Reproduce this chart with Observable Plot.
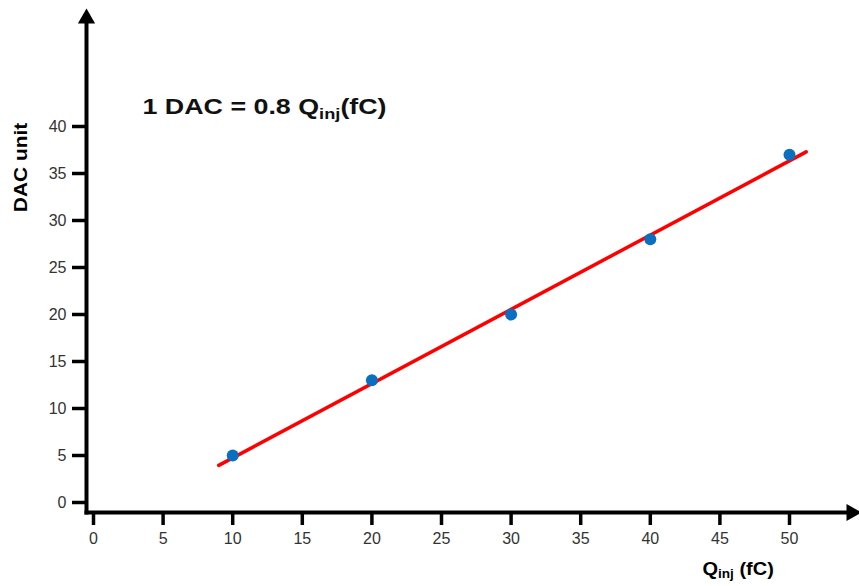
<!DOCTYPE html>
<html>
<head>
<meta charset="utf-8">
<script src="https://cdn.jsdelivr.net/npm/d3@7"></script>
<script src="https://cdn.jsdelivr.net/npm/@observablehq/plot@0.6"></script>
<style>
  html, body { margin: 0; padding: 0; background: #fff; }
  #chart svg { display: block; }
</style>
</head>
<body>
<div id="chart"></div>
<script>
// Data
const qinj = [10, 20, 30, 40, 50];          // Q_inj (fC)
const dacUnits = [5, 13, 20, 28, 37];       // DAC unit
const fitQ = [9, 51.2];                      // fitted line extent
const fitDAC = [3.95, 37.3];
const xTicks = [0, 5, 10, 15, 20, 25, 30, 35, 40, 45, 50];
const yTicks = [0, 5, 10, 15, 20, 25, 30, 35, 40];
const titleText = "1 DAC = 0.8 Q_inj_(fC)";
const xLabel = "Q_inj_ (fC)";
const yLabel = "DAC unit";

const points = qinj.map((q, i) => ({q, dac: dacUnits[i]}));
const fit = fitQ.map((q, i) => ({q, dac: fitDAC[i]}));

const W = 859, H = 586;
const font = "'Liberation Sans', Arial, sans-serif";

const chart = Plot.plot({
  width: W,
  height: H,
  marginLeft: 86,
  marginRight: 13,
  marginTop: 23,
  marginBottom: 74,
  style: {fontFamily: font, fontSize: "16px", background: "#fff", color: "#000"},
  x: {domain: [0, 50], range: [93, 789]},
  y: {domain: [0, 40], range: [502, 126]},
  marks: [
    Plot.axisX(xTicks, {tickSize: 13, tickPadding: 7, strokeWidth: 3.5, fill: "#333", fontSize: 16, label: null, tickFormat: d => d}),
    Plot.axisY(yTicks, {tickSize: 14, tickPadding: 6, strokeWidth: 3.5, fill: "#333", fontSize: 16, label: null, tickFormat: d => d}),
    Plot.frame({anchor: "left", stroke: "#000", strokeWidth: 4}),
    Plot.frame({anchor: "bottom", stroke: "#000", strokeWidth: 4}),
    Plot.dot([0], {frameAnchor: "top-left", symbol: "triangle", r: 6.4, fill: "#000", stroke: "none", dy: -5}),
    Plot.dot([0], {frameAnchor: "bottom-right", symbol: "triangle", r: 6.4, fill: "#000", stroke: "none", rotate: 90, dx: 5}),
    Plot.line(fit, {x: "q", y: "dac", stroke: "#ff0000", strokeWidth: 3.5}),
    Plot.dot(points, {x: "q", y: "dac", r: 6, fill: "#0b6fc0", stroke: "none"}),
    Plot.text([titleText], {frameAnchor: "top-left", text: d => d, dx: 56, dy: 75, textAnchor: "start", fontSize: 22, fontWeight: "bold", fill: "#111"}),
    Plot.text([xLabel], {frameAnchor: "bottom-left", text: d => d, dx: 616, dy: 62, textAnchor: "start", fontSize: 18, fontWeight: "bold", fill: "#000"}),
    Plot.text([yLabel], {frameAnchor: "top-left", text: d => d, dx: -72, dy: 144, rotate: -90, textAnchor: "middle", fontSize: 18, fontWeight: "bold", fill: "#000"})
  ]
});

// Horizontal stretch of the label texts, as in the reference
const stretch = new Map([[titleText, 1.22], [xLabel, 1.11], [yLabel, 1.16]]);

// Turn "_xxx_" segments into subscripts
d3.select(chart).selectAll("text").each(function() {
  const el = d3.select(this);
  const s = el.text();
  if (stretch.has(s)) {
    const tr = el.attr("transform") || "";
    el.attr("transform", tr + ` scale(${stretch.get(s)},1)`);
  }
  if (s.indexOf("_") < 0) return;
  const parts = s.split("_");
  el.text(null);
  parts.forEach((p, i) => {
    if (!p) return;
    const t = el.append("tspan").text(p);
    if (i % 2 === 1) {
      t.attr("font-size", "0.68em").attr("dy", "0.3em");
    } else if (i > 0) {
      t.attr("dy", "-0.204em");
    }
  });
});

document.getElementById("chart").appendChild(chart);
</script>
</body>
</html>
